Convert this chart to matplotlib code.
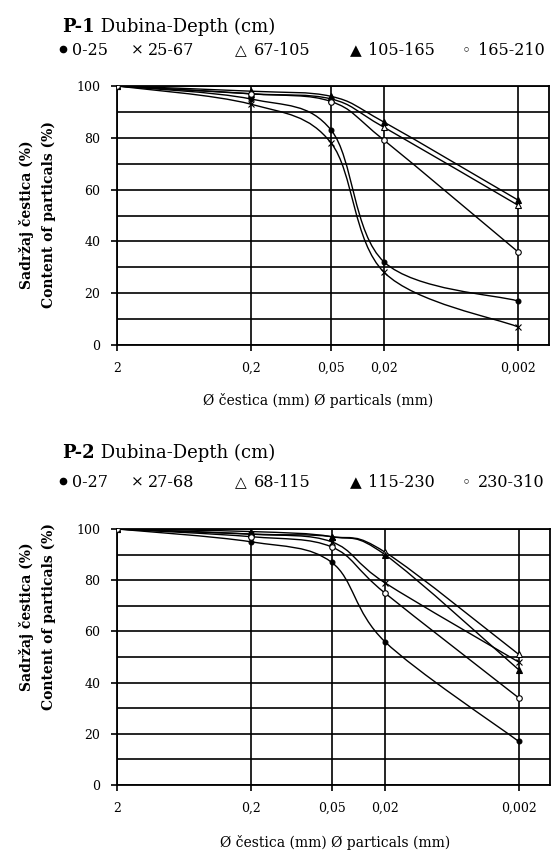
import numpy as np
import matplotlib
matplotlib.use("Agg")
import matplotlib.pyplot as plt
from matplotlib.path import Path
from matplotlib.patches import PathPatch
from matplotlib.lines import Line2D
from matplotlib.ticker import FixedLocator, NullLocator

plt.rcParams['font.family'] = ['DejaVu Serif', 'DejaVu Sans']

# velicina cestica (mm) - os x
sizes = [2, 0.2, 0.05, 0.02, 0.002]
size_labels = ["2", "0,2", "0,05", "0,02", "0,002"]

# P-1, kumulativni sadrzaj cestica (%)
p1_depths = ["0-25", "25-67", "67-105", "105-165", "165-210"]
p1_0_25 = [100, 95, 83, 32, 17]
p1_25_67 = [100, 93, 78, 28, 7]
p1_67_105 = [100, 97, 95, 84, 54]
p1_105_165 = [100, 98, 96, 86, 56]
p1_165_210 = [100, 97, 94, 79, 36]

# P-2
p2_depths = ["0-27", "27-68", "68-115", "115-230", "230-310"]
p2_0_27 = [100, 95, 87, 56, 17]
p2_27_68 = [100, 98, 95, 79, 48]
p2_68_115 = [100, 98, 97, 91, 51]
p2_115_230 = [100, 99, 97, 90, 45]
p2_230_310 = [100, 97, 93, 75, 34]

marker_styles = [dict(marker='o', mfc='black', ms=3.5),
                 dict(marker='x', ms=4),
                 dict(marker='^', mfc='white', ms=4.5),
                 dict(marker='^', mfc='black', ms=4.5),
                 dict(marker='o', mfc='white', ms=4)]
# prvi znak legende (tocka) crta se kao marker, ostali kao tekst
legend_glyphs = [None, '\u00d7', '\u25b3', '\u25b2', '\u25e6']


def smooth_path(xs, ys):
    # Bezier kroz tocke (kao "smoothed line"), racunato u log10(x)
    p = np.column_stack([np.log10(xs), np.asarray(ys, float)])
    ext = np.vstack([p[0], p, p[-1]])
    verts = [p[0]]
    codes = [Path.MOVETO]
    for i in range(len(p) - 1):
        p0, p1, p2, p3 = ext[i], ext[i + 1], ext[i + 2], ext[i + 3]
        verts += [p1 + (p2 - p0) / 6, p2 - (p3 - p1) / 6, p2]
        codes += [Path.CURVE4] * 3
    verts = np.array(verts)
    verts[:, 0] = 10 ** verts[:, 0]
    return Path(verts, codes)


def draw_panel(ax, series):
    for vals, st in zip(series, marker_styles):
        ax.add_patch(PathPatch(smooth_path(sizes, vals), fill=False,
                               ec='black', lw=1.0, zorder=3))
        ax.plot(sizes, vals, ls='none', color='black', mew=0.8, zorder=4, **st)
    ax.set_xscale('log')
    ax.set_xlim(2, 0.00117)
    ax.set_ylim(0, 100)
    ax.xaxis.set_major_locator(FixedLocator(sizes))
    ax.xaxis.set_minor_locator(NullLocator())
    ax.set_xticklabels(size_labels)
    ax.set_yticks(range(0, 101, 20))
    ax.set_yticks(range(0, 101, 10), minor=True)
    ax.tick_params(which='major', direction='out', length=4, width=1.2,
                   pad=8, labelsize=9)
    ax.tick_params(which='minor', length=0)
    ax.grid(True, which='both', axis='y', color='black', lw=1.2)
    ax.grid(True, which='major', axis='x', color='black', lw=1.2)
    for s in ax.spines.values():
        s.set_linewidth(1.3)
    ax.set_axisbelow(True)


def header(fig, y_title, y_leg, name, depths, xs):
    t = fig.text(62 / 552, 1 - y_title / 852, name, fontsize=13,
                 fontweight='bold', ha='left', va='center')
    fig.axes[0].annotate(" Dubina-Depth (cm)", xy=(1, 0), xycoords=t,
                         ha='left', va='bottom', fontsize=13)
    yb = 1 - (y_leg + 6) / 852
    for g, d, (xg, xt) in zip(legend_glyphs, depths, xs):
        if g is None:
            fig.add_artist(Line2D([(xg + 3) / 552], [1 - y_leg / 852],
                                  transform=fig.transFigure, ls='none',
                                  marker='o', ms=4.5, color='black'))
        else:
            fig.text(xg / 552, yb, g, fontsize=11, ha='left', va='baseline')
        fig.text(xt / 552, yb, d, fontsize=11.5, ha='left', va='baseline')


fig = plt.figure(figsize=(5.52, 8.52), dpi=100)
ax1 = fig.add_axes([117 / 552, 1 - 345 / 852, 432 / 552, 259 / 852])
ax2 = fig.add_axes([117 / 552, 1 - 785 / 852, 433 / 552, 256 / 852])

draw_panel(ax1, [p1_0_25, p1_25_67, p1_67_105, p1_105_165, p1_165_210])
draw_panel(ax2, [p2_0_27, p2_27_68, p2_68_115, p2_115_230, p2_230_310])

leg_x = [(60, 72), (131, 148), (235, 254), (350, 368), (462, 478)]
header(fig, 27, 49, "P-1", p1_depths, leg_x)
header(fig, 453, 481, "P-2", p2_depths, leg_x)

for yc in (215, 617):
    fig.text(27 / 552, 1 - yc / 852, "Sadržaj čestica (%)", rotation=90,
             fontsize=10, fontweight='bold', ha='center', va='center')
    fig.text(49 / 552, 1 - yc / 852, "Content of particals (%)", rotation=90,
             fontsize=10, fontweight='bold', ha='center', va='center')

fig.text(318 / 552, 1 - 400 / 852, "Ø čestica (mm) Ø particals (mm)",
         fontsize=10, ha='center', va='center')
fig.text(335 / 552, 1 - 842 / 852, "Ø čestica (mm) Ø particals (mm)",
         fontsize=10, ha='center', va='center')

fig.savefig("out.png", dpi=100)
